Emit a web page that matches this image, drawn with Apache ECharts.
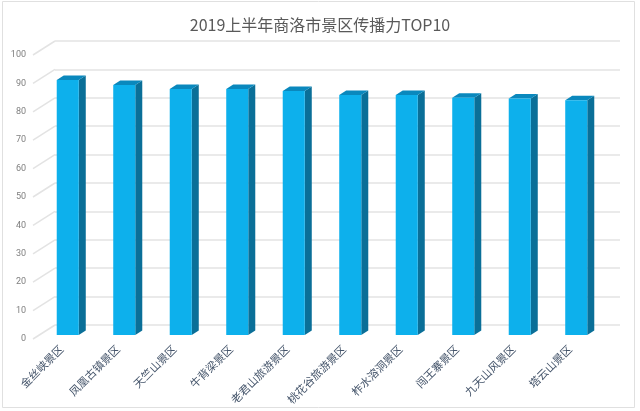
<!DOCTYPE html>
<html>
<head>
<meta charset="utf-8">
<script src="https://cdn.jsdelivr.net/npm/echarts@6/dist/echarts.min.js"></script>
<style>html,body{margin:0;padding:0;background:#fff;}#c{width:640px;height:411px;}</style>
</head>
<body>
<div id="c"></div>
<script>
var titleText = '2019上半年商洛市景区传播力TOP10';
var categories = ['金丝峡景区','凤凰古镇景区','天竺山景区','牛背梁景区','老君山旅游景区','桃花谷旅游景区','柞水溶洞景区','闯王寨景区','九天山风景区','塔云山景区'];
var values = [89.8, 88.0, 86.6, 86.6, 85.9, 84.5, 84.5, 83.5, 83.3, 82.7];
var yTicks = [0, 10, 20, 30, 40, 50, 60, 70, 80, 90, 100];

var DEPTH_X = 22, DEPTH_Y = -14;      // floor depth offset
var BAR_DX = 6.5, BAR_DY = -4;        // bar front face offset from front plane
var SIDE_X = 7, SIDE_Y = -4.5;        // bar depth
var BAR_W_RATIO = 0.39;

var chart = echarts.init(document.getElementById('c'), null, {renderer: 'canvas'});

var barData = categories.map(function (c, i) { return [i, values[i]]; });
var tickData = yTicks.map(function (v) { return [0, v]; });

var option = {
  backgroundColor: '#ffffff',
  animation: false,
  title: {
    text: titleText,
    left: 'center',
    top: 12,
    textStyle: {color: '#595959', fontSize: 16, fontWeight: 'normal', fontFamily: '"Noto Sans CJK SC", sans-serif'}
  },
  graphic: [{
    type: 'rect', shape: {x: 2.5, y: 1.5, width: 632, height: 406},
    style: {fill: 'none', stroke: '#e0e0e0', lineWidth: 1}, silent: true, z: -10
  }],
  grid: [
    {left: 33, right: 42, top: 55, bottom: 72},
    {left: 55, right: 20, top: 41, bottom: 86}
  ],
  xAxis: [
    {
      type: 'category', gridIndex: 0, data: categories,
      axisLine: {show: false}, axisTick: {show: false},
      axisLabel: {rotate: 45, margin: 8, color: '#44546a', fontSize: 11,
        fontFamily: '"Noto Sans CJK SC", sans-serif', interval: 0}
    },
    {
      type: 'category', gridIndex: 1, data: categories, show: false
    }
  ],
  yAxis: [
    {
      type: 'value', gridIndex: 0, min: 0, max: 100, interval: 10,
      axisLine: {show: false}, axisTick: {show: false}, splitLine: {show: false},
      axisLabel: {color: '#7f7f7f', fontSize: 9, margin: 7, fontFamily: 'Roboto, sans-serif'}
    },
    {
      type: 'value', gridIndex: 1, min: 0, max: 100, interval: 10,
      axisLine: {show: false}, axisTick: {show: false}, axisLabel: {show: false},
      splitLine: {show: true, lineStyle: {color: '#e3e3e3', width: 1.5}}
    }
  ],
  series: [
    {
      type: 'custom', xAxisIndex: 0, yAxisIndex: 0, data: tickData, silent: true, z: 1,
      renderItem: function (params, api) {
        var p = api.coord([api.value(0), api.value(1)]);
        var band = api.size([1, 0])[0];
        var x0 = p[0] - band / 2;
        return {
          type: 'line',
          shape: {x1: x0, y1: p[1], x2: x0 + DEPTH_X, y2: p[1] + DEPTH_Y},
          style: {stroke: '#e3e3e3', lineWidth: 1.5}
        };
      }
    },
    {
      type: 'custom', xAxisIndex: 0, yAxisIndex: 0, data: barData, z: 5,
      renderItem: function (params, api) {
        var top = api.coord([api.value(0), api.value(1)]);
        var bot = api.coord([api.value(0), 0]);
        var band = api.size([1, 0])[0];
        var w = band * BAR_W_RATIO;
        var cx = top[0] + BAR_DX;
        var xl = cx - w / 2, xr = cx + w / 2;
        var yt = top[1] + BAR_DY, yb = bot[1] + BAR_DY;
        return {
          type: 'group',
          children: [
            {type: 'polygon', shape: {points: [[xr, yt], [xr + SIDE_X, yt + SIDE_Y], [xr + SIDE_X, yb + SIDE_Y], [xr, yb]]},
             style: {fill: '#0a6f98'}},
            {type: 'polygon', shape: {points: [[xl, yt], [xl + SIDE_X, yt + SIDE_Y], [xr + SIDE_X, yt + SIDE_Y], [xr, yt]]},
             style: {fill: '#0a88bd'}},
            {type: 'rect', shape: {x: xl, y: yt, width: w, height: yb - yt},
             style: {fill: '#0db0ec'}}
          ]
        };
      }
    }
  ]
};
chart.setOption(option);
</script>
</body>
</html>
